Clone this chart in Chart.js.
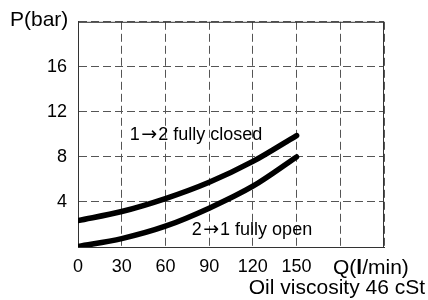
<!DOCTYPE html>
<html>
<head>
<meta charset="utf-8">
<script src="https://cdn.jsdelivr.net/npm/chart.js@4"></script>
<style>
  html, body { margin: 0; padding: 0; background: #fff; }
  #wrap { width: 428px; height: 300px; }
</style>
</head>
<body>
<div id="wrap"><canvas id="myChart" width="428" height="300"></canvas></div>
<script>
// flow Q (l/min)
const flow = [0, 30, 60, 90, 120, 150];
// pressure drop P (bar)
const closed12 = [2.35, 3.15, 4.3, 5.75, 7.6, 9.9];
const open21 = [0.05, 0.75, 1.85, 3.45, 5.4, 8.0];
const xTicks = [0, 30, 60, 90, 120, 150];
const yTicks = [4, 8, 12, 16];

const FONT = '"Liberation Sans", Arial, sans-serif';
const ARROW_FONT = '"DejaVu Sans", sans-serif';

const pts = (ys) => flow.map((x, i) => ({ x: x, y: ys[i] }));

// draws a row of [text, font, gapAfter] pieces left to right
function drawPieces(ctx, pieces, x, y) {
    pieces.forEach(([t, f, gap]) => {
        ctx.font = f;
        ctx.fillText(t, x, y);
        x += ctx.measureText(t).width + (gap || 0);
    });
}

const textPlugin = {
    id: 'texts',
    beforeDatasetsDraw(chart) {
        const { ctx, chartArea: a } = chart;
        ctx.save();
        ctx.strokeStyle = '#333';
        ctx.lineWidth = 1;
        ctx.setLineDash([]);
        ctx.strokeRect(a.left + 0.5, a.top + 0.5, a.right - a.left - 1, a.bottom - a.top);
        ctx.restore();
    },
    afterDatasetsDraw(chart) {
        const { ctx, scales: { x, y } } = chart;
        ctx.save();
        ctx.fillStyle = '#000';
        ctx.textBaseline = 'middle';
        ctx.textAlign = 'left';

        const f18 = '18px ' + FONT;
        const arr = '19px ' + ARROW_FONT;
        drawPieces(ctx, [['1', f18, 1.5], ['\u2192', arr, 1], ['2 fully closed', f18]],
            x.getPixelForValue(35.5), y.getPixelForValue(9.95));
        drawPieces(ctx, [['2', f18, 1.5], ['\u2192', arr, 1], ['1 fully open', f18]],
            x.getPixelForValue(78), y.getPixelForValue(1.5));

        ctx.font = '21px ' + FONT;
        ctx.fillText('P(bar)', 10, 20);

        // Q(l/min) with bold l
        drawPieces(ctx, [['Q(', '21px ' + FONT], ['l', 'bold 21px ' + FONT], ['/min)', '21px ' + FONT]], 333, 268);

        ctx.font = '21px ' + FONT;
        ctx.textAlign = 'right';
        ctx.fillText('Oil viscosity 46 cSt', 425, 288);
        ctx.restore();
    }
};

new Chart(document.getElementById('myChart'), {
    type: 'line',
    data: {
        datasets: [
            {
                label: '1\u21922 fully closed',
                data: pts(closed12),
                borderColor: '#000',
                borderWidth: 5.5,
                borderCapStyle: 'round',
                cubicInterpolationMode: 'monotone',
                pointRadius: 0,
                fill: false
            },
            {
                label: '2\u21921 fully open',
                data: pts(open21),
                borderColor: '#000',
                borderWidth: 5.5,
                borderCapStyle: 'round',
                cubicInterpolationMode: 'monotone',
                pointRadius: 0,
                fill: false
            }
        ]
    },
    options: {
        responsive: false,
        animation: false,
        devicePixelRatio: 1,
        layout: { padding: { left: 0, right: 44, top: 18, bottom: 0 } },
        plugins: { legend: { display: false }, tooltip: { enabled: false } },
        scales: {
            x: {
                type: 'linear',
                min: 0,
                max: 210,
                afterFit: (s) => { s.height = 53; },
                afterBuildTicks: (s) => { s.ticks = [0, 30, 60, 90, 120, 150, 180, 210].map(v => ({ value: v })); },
                ticks: {
                    color: '#000',
                    font: { family: FONT, size: 18 },
                    padding: 9,
                    maxRotation: 0,
                    callback: (v) => xTicks.includes(v) ? String(v) : ''
                },
                grid: { color: '#555', lineWidth: 1, drawTicks: false },
                border: { display: true, color: '#333', width: 1, dash: [8, 4] }
            },
            y: {
                min: 0,
                max: 20,
                afterFit: (s) => { s.width = 78; },
                afterBuildTicks: (s) => { s.ticks = [0, 4, 8, 12, 16, 20].map(v => ({ value: v })); },
                ticks: {
                    color: '#000',
                    font: { family: FONT, size: 18 },
                    padding: 11,
                    callback: (v) => yTicks.includes(v) ? String(v) : ''
                },
                grid: { color: '#555', lineWidth: 1, drawTicks: false },
                border: { display: true, color: '#333', width: 1, dash: [8, 4] }
            }
        }
    },
    plugins: [textPlugin]
});
</script>
</body>
</html>
